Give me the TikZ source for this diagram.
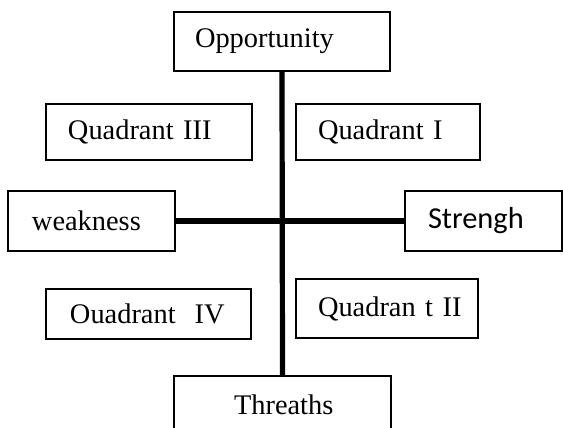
\documentclass[tikz,border=0pt]{standalone}
\usepackage{fontspec}
\setmainfont{Liberation Serif}
\newfontfamily\strfont{Carlito}
\usetikzlibrary{calc,positioning}

\tikzset{
  quadbox/.style={draw, line width=0.75pt, inner xsep=0pt, inner ysep=0pt,
    align=left, font=\fontsize{14.2}{17}\selectfont},
  axisline/.style={line width=2.6pt}
}

\begin{document}
\begin{tikzpicture}[x=0.5pt,y=-0.5pt]
  \useasboundingbox (0,0) rectangle (563,428);

  %% Boxes: name / left / top / right / bottom / left padding / text
  \foreach \nm/\xa/\ya/\xb/\yb/\pd/\txt in {
      opp/174/12/390/71/21/Opportunity,
      qthree/46/104/252/160/22/Quadrant III,
      qone/296/104/480/160/22/Quadrant I,
      weak/8/191/175/251/24/weakness,
      str/405/191/562/251/23/{\strfont\fontsize{15.2}{18}\selectfont Strengh},
      qfour/46/289/251/339/24/Ouadrant\ \ IV,
      qtwo/296/279/478/338/22/Quadran t II,
      thr/174/376/391/434/60/Threaths}
  {
    \pgfmathsetmacro\bw{(\xb-\xa)*0.5}
    \pgfmathsetmacro\bh{(\yb-\ya)*0.5}
    \pgfmathsetmacro\bp{\pd*0.5}
    \node[quadbox, minimum width=\bw pt, minimum height=\bh pt, text width=\bw pt]
      (\nm) at ({(\xa+\xb)/2},{(\ya+\yb)/2}) {\hspace*{\bp pt}\txt};
  }

  %% The two axes
  \draw[axisline] (opp.south) -- (thr.north);
  \draw[axisline] (weak.east) -- (str.west);
\end{tikzpicture}
\end{document}
